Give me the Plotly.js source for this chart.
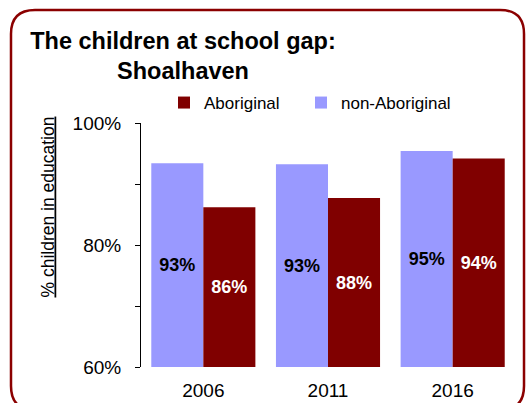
<!DOCTYPE html>
<html><head><meta charset="utf-8">
<script src="https://cdn.plot.ly/plotly-3.0.1.min.js"></script>
<style>html,body{margin:0;padding:0;background:#fff}</style>
</head><body><div id="chart" style="width:531px;height:403px"></div>
<script>
const years = ['2006', '2011', '2016'];
const nonAboriginal = [93.4, 93.25, 95.4];
const aboriginal = [86.2, 87.7, 94.2];
const yTickVals = [60, 80, 100];
const yTickText = ['60%', '80%', '100%'];
const seriesNames = ['Aboriginal', 'non-Aboriginal'];
const AXIS_MIN = 60;

const FONT = 'Liberation Sans, Arial, sans-serif';
const DARK = '#800000';
const LIGHT = '#9999FF';
const W = 531, Hh = 403;
const M = {l: 141, r: 16, t: 123, b: 36};
const PW = W - M.l - M.r, PH = Hh - M.t - M.b;
const xp = px => (px - M.l) / PW;
const yp = py => 1 - (py - M.t) / PH;

// rounded border path in paper coords
function roundedRect(x0, y0, x1, y1, r) {
  const P = (x, y) => xp(x).toFixed(4) + ',' + yp(y).toFixed(4);
  return 'M' + P(x0 + r, y0) + ' L' + P(x1 - r, y0) + ' Q' + P(x1, y0) + ' ' + P(x1, y0 + r) +
    ' L' + P(x1, y1 - r) + ' Q' + P(x1, y1) + ' ' + P(x1 - r, y1) +
    ' L' + P(x0 + r, y1) + ' Q' + P(x0, y1) + ' ' + P(x0, y1 - r) +
    ' L' + P(x0, y0 + r) + ' Q' + P(x0, y0) + ' ' + P(x0 + r, y0) + ' Z';
}

// bars drawn from the axis minimum so the inside labels sit in the visible middle
function barTrace(name, values, color, textColor, legendId) {
  return {
    type: 'bar', name: name, x: years,
    base: AXIS_MIN, y: values.map(v => v - AXIS_MIN), customdata: values,
    marker: {color: color}, legend: legendId,
    texttemplate: '%{customdata:.0f}%', textposition: 'inside', insidetextanchor: 'middle',
    textangle: 0, constraintext: 'none',
    textfont: {family: FONT, size: 18, color: textColor, weight: 'bold'},
    hoverinfo: 'skip'
  };
}

const traces = [
  barTrace(seriesNames[1], nonAboriginal, LIGHT, '#000000', 'legend2'),
  barTrace(seriesNames[0], aboriginal, DARK, '#FFFFFF', 'legend')
];

const legendCommon = {
  orientation: 'h', xref: 'container', yref: 'container',
  xanchor: 'left', yanchor: 'middle',
  font: {family: FONT, size: 17, color: '#000'},
  bgcolor: 'rgba(0,0,0,0)', borderwidth: 0
};

const layout = {
  width: W, height: Hh,
  margin: M,
  paper_bgcolor: '#ffffff', plot_bgcolor: '#ffffff',
  font: {family: FONT, size: 18, color: '#000'},
  barmode: 'group', bargap: 0.165, bargroupgap: 0,
  showlegend: true,
  legend: Object.assign({}, legendCommon, {x: 164 / W, y: 1 - 103 / Hh}),
  legend2: Object.assign({}, legendCommon, {x: 301 / W, y: 1 - 103 / Hh}),
  title: {
    text: 'The children at school gap:<br>Shoalhaven',
    font: {family: FONT, size: 23.5, color: '#000', weight: 'bold'},
    xref: 'container', yref: 'container',
    x: 183 / W, xanchor: 'center',
    y: 1 - 48.5 / Hh, yanchor: 'top'
  },
  xaxis: {
    type: 'category', showline: false, ticks: '', showgrid: false, zeroline: false,
    ticklabelstandoff: 10,
    tickfont: {family: FONT, size: 19, color: '#000'}
  },
  yaxis: {
    range: [60, 100], tickvals: yTickVals, ticktext: yTickText,
    showline: true, linecolor: '#000', linewidth: 1,
    ticks: 'outside', ticklen: 5, tickcolor: '#000', tickwidth: 1,
    minor: {tickvals: [70, 90], ticks: 'outside', ticklen: 5, tickcolor: '#000', tickwidth: 1, showgrid: false},
    showgrid: false, zeroline: false,
    ticklabelstandoff: 10,
    tickfont: {family: FONT, size: 19, color: '#000'}
  },
  annotations: [{
    text: '<u>% children in education</u>', textangle: -90,
    xref: 'paper', yref: 'paper', x: xp(47), y: yp(207.5),
    xanchor: 'center', yanchor: 'middle', showarrow: false,
    font: {family: FONT, size: 17.5, color: '#000'}
  }],
  shapes: [{
    type: 'path', xref: 'paper', yref: 'paper', layer: 'above',
    path: roundedRect(11, 10, 524, 410, 24),
    line: {color: '#8B0000', width: 2.5}, fillcolor: 'rgba(0,0,0,0)'
  }]
};

Plotly.newPlot('chart', traces, layout, {displayModeBar: false, staticPlot: true});
</script></body></html>
